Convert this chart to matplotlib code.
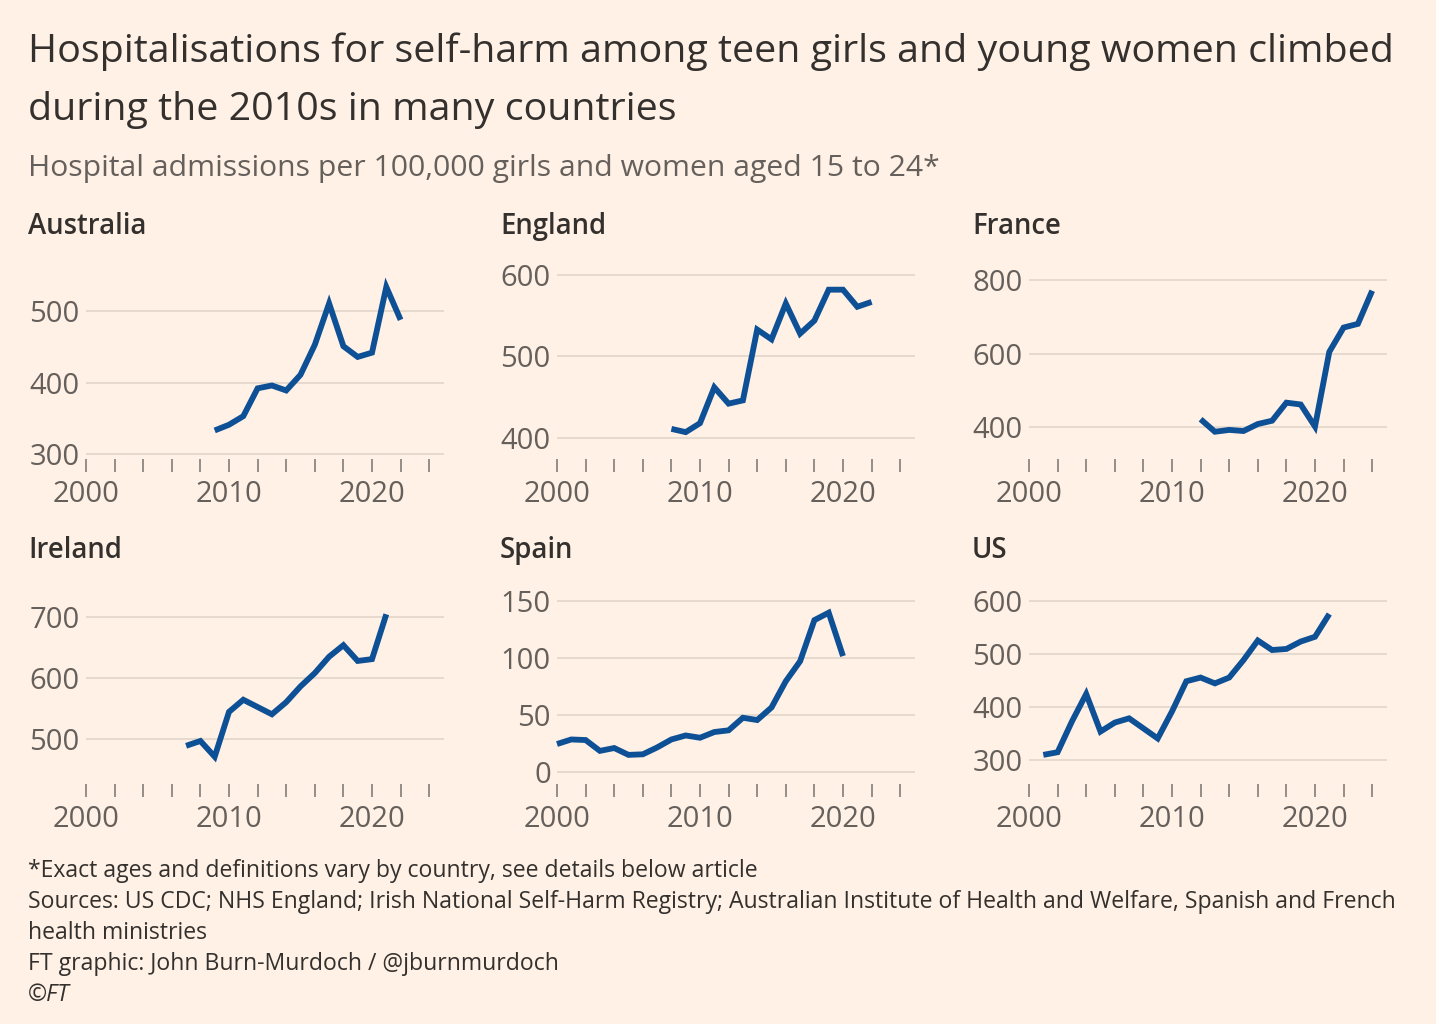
import matplotlib
matplotlib.use("Agg")
import matplotlib.pyplot as plt

# ------------------------------------------------------------
# data
# ------------------------------------------------------------
aus_years = [2009, 2010, 2011, 2012, 2013, 2014, 2015, 2016, 2017, 2018, 2019, 2020, 2021, 2022]
aus_vals = [333, 341, 353, 392, 396, 389, 411, 453, 511, 451, 436, 442, 534, 488]

eng_years = [2008, 2009, 2010, 2011, 2012, 2013, 2014, 2015, 2016, 2017, 2018, 2019, 2020, 2021, 2022]
eng_vals = [411, 407, 418, 462, 442, 446, 533, 521, 565, 528, 544, 582, 582, 561, 567]

fra_years = [2012, 2013, 2014, 2015, 2016, 2017, 2018, 2019, 2020, 2021, 2022, 2023, 2024]
fra_vals = [422, 388, 393, 390, 409, 418, 467, 462, 402, 605, 671, 681, 771]

irl_years = [2007, 2008, 2009, 2010, 2011, 2012, 2013, 2014, 2015, 2016, 2017, 2018, 2019, 2020, 2021]
irl_vals = [488, 496, 470, 544, 564, 552, 540, 560, 586, 608, 635, 654, 628, 631, 705]

esp_years = [2000, 2001, 2002, 2003, 2004, 2005, 2006, 2007, 2008, 2009, 2010,
             2011, 2012, 2013, 2014, 2015, 2016, 2017, 2018, 2019, 2020]
esp_vals = [24.5, 28.5, 28, 18.5, 21, 15, 15.5, 21.5, 28.5, 32, 30,
            35, 36.5, 47.5, 45.5, 56.5, 79.5, 97, 133, 139.5, 101.5]

us_years = [2001, 2002, 2003, 2004, 2005, 2006, 2007, 2008, 2009, 2010, 2011,
            2012, 2013, 2014, 2015, 2016, 2017, 2018, 2019, 2020, 2021]
us_vals = [309, 314, 372, 424, 353, 370, 378, 359, 340, 391, 448,
           455, 444, 455, 488, 525, 507, 509, 523, 532, 575]

panel_names = ["Australia", "England", "France", "Ireland", "Spain", "US"]
panel_years = [aus_years, eng_years, fra_years, irl_years, esp_years, us_years]
panel_vals = [aus_vals, eng_vals, fra_vals, irl_vals, esp_vals, us_vals]
panel_yticks = [[300, 400, 500], [400, 500, 600], [400, 600, 800],
                [500, 600, 700], [0, 50, 100, 150], [300, 400, 500, 600]]
panel_ylims = [(293, 569), (374, 616), (314, 849),
               (425, 750), (-10.5, 162), (254, 626)]

# ------------------------------------------------------------
# styling
# ------------------------------------------------------------
BG = "#FFF1E5"
LINE = "#0D5096"
GRID = "#E6D9CE"
DARK = "#33302E"
GREY = "#66605C"
TICK = "#8C8680"

plt.rcParams["font.family"] = ["Open Sans", "DejaVu Sans"]

W, H = 1436, 1024
fig = plt.figure(figsize=(W / 100, H / 100), dpi=100, facecolor=BG)


def fx(px):
    return px / W


def fy(py):
    return 1 - py / H


# titles
fig.text(fx(28), fy(62), "Hospitalisations for self-harm among teen girls and young women climbed",
         fontsize=28.4, color=DARK, va="baseline", ha="left")
fig.text(fx(28), fy(120), "during the 2010s in many countries",
         fontsize=28.4, color=DARK, va="baseline", ha="left")
fig.text(fx(28), fy(176), "Hospital admissions per 100,000 girls and women aged 15 to 24*",
         fontsize=21.7, color=GREY, va="baseline", ha="left")

# panel grid (pixel positions of the 2000 tick / axis bottom)
col_left = [86, 557, 1029]
row_bottom = [459, 784]
title_base = [234, 558]
title_x = [28, 500, 972]
ax_w = 357.5
ax_h = 197

for i, name in enumerate(panel_names):
    r, c = divmod(i, 3)
    ax = fig.add_axes([fx(col_left[c]), fy(row_bottom[r]), ax_w / W, ax_h / H])
    ax.set_facecolor(BG)

    ax.plot(panel_years[i], panel_vals[i], color=LINE, lw=4.2,
            solid_capstyle="butt", solid_joinstyle="miter", clip_on=False, zorder=3)

    ax.set_xlim(2000, 2025)
    ax.set_ylim(*panel_ylims[i])

    ax.set_yticks(panel_yticks[i])
    ax.set_yticklabels([str(v) for v in panel_yticks[i]])
    ax.grid(axis="y", color=GRID, lw=1.4)
    ax.set_axisbelow(True)

    ax.set_xticks([2000, 2010, 2020])
    ax.set_xticklabels(["2000", "2010", "2020"])
    ax.set_xticks([2002, 2004, 2006, 2008, 2012, 2014, 2016, 2018, 2022, 2024], minor=True)

    ax.tick_params(axis="x", which="both", length=9, width=1.3, color=TICK,
                   labelcolor=GREY, labelsize=21, pad=6)
    ax.tick_params(axis="y", length=0, labelcolor=GREY, labelsize=21, pad=4.5)

    for s in ax.spines.values():
        s.set_visible(False)

    fig.text(fx(title_x[c]), fy(title_base[r]), name, fontsize=19.8, fontweight="semibold",
             color=DARK, va="baseline", ha="left")

# footer
notes = [
    "*Exact ages and definitions vary by country, see details below article",
    "Sources: US CDC; NHS England; Irish National Self-Harm Registry; Australian Institute of Health and Welfare, Spanish and French",
    "health ministries",
    "FT graphic: John Burn-Murdoch / @jburnmurdoch",
]
for k, line in enumerate(notes):
    fig.text(fx(28), fy(877 + 31 * k), line, fontsize=16.6, color=DARK,
             va="baseline", ha="left")
fig.text(fx(28), fy(877 + 31 * 4), "©FT", fontsize=16.6, color=DARK, style="italic",
         va="baseline", ha="left")

fig.savefig("out.png", dpi=100, facecolor=BG)
